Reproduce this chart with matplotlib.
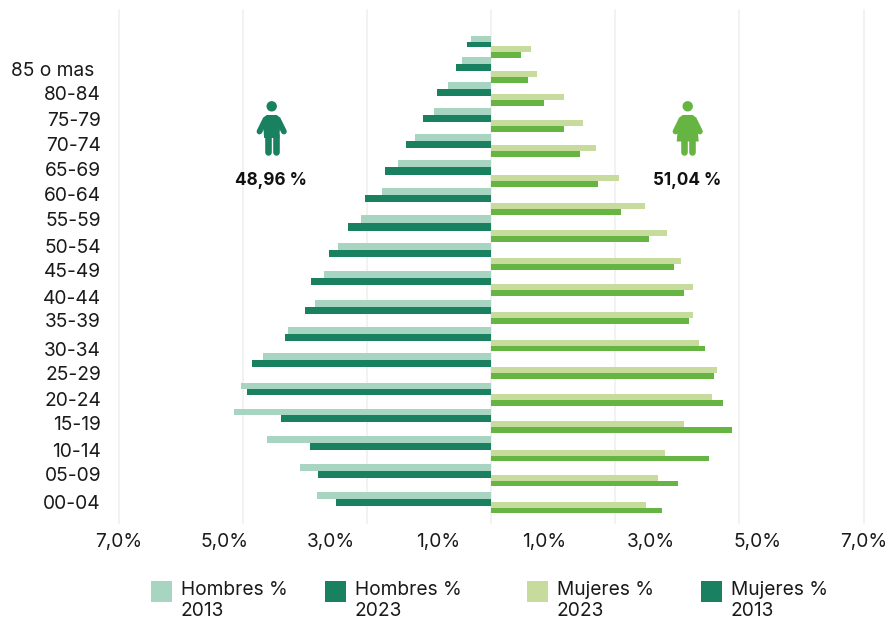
#!/usr/bin/env python3
# -*- coding: utf-8 -*-
"""Piramide de poblacion 2013 / 2023, hombres y mujeres."""

import matplotlib
matplotlib.use("Agg")
import matplotlib.pyplot as plt
from matplotlib.patches import Circle, Polygon, Rectangle

plt.rcParams["font.family"] = ["Inter", "DejaVu Sans"]

# === DATA ===
age_groups = ["85 o mas", "80-84", "75-79", "70-74", "65-69", "60-64", "55-59", "50-54", "45-49",
              "40-44", "35-39", "30-34", "25-29", "20-24", "15-19", "10-14", "05-09", "00-04"]
hombres_2013 = [0.38, 0.55, 0.81, 1.08, 1.43, 1.75, 2.05, 2.45, 2.88,
                3.13, 3.31, 3.82, 4.29, 4.70, 4.83, 4.21, 3.59, 3.27]
hombres_2023 = [0.46, 0.66, 1.02, 1.28, 1.60, 2.00, 2.37, 2.69, 3.05,
                3.39, 3.50, 3.88, 4.50, 4.59, 3.95, 3.41, 3.26, 2.92]
mujeres_2023 = [0.75, 0.86, 1.37, 1.73, 1.97, 2.41, 2.89, 3.31, 3.57,
                3.80, 3.80, 3.91, 4.25, 4.15, 3.63, 3.27, 3.14, 2.91]
mujeres_2013 = [0.56, 0.70, 1.00, 1.37, 1.67, 2.01, 2.44, 2.97, 3.44,
                3.63, 3.72, 4.02, 4.19, 4.36, 4.53, 4.10, 3.52, 3.21]
x_tick_values = [-7, -5, -3, -1, 1, 3, 5, 7]
x_tick_labels = ["7,0%", "5,0%", "3,0%", "1,0%", "1,0%", "3,0%", "5,0%", "7,0%"]
share_labels = ["48,96 %", "51,04 %"]
legend_labels = ["Hombres %\n2013", "Hombres %\n2023", "Mujeres %\n2023", "Mujeres %\n2013"]

# === LAYOUT (pixels of the 889x620 picture; rows are not evenly spaced in the original) ===
W, H = 889, 620
PLOT_LEFT, PLOT_RIGHT, PLOT_TOP, PLOT_BOTTOM = 118.5, 863.5, 10, 523
male_row_y = [41.5, 64, 89, 115, 141, 167, 195, 222.5, 250, 278, 307, 333.5, 360, 389, 415, 443, 471, 499]
male_bar_h = [5.5, 7, 7, 7, 7, 7.5, 7, 8, 7, 7, 7, 7, 7, 6, 6.5, 7, 7, 7]
female_row_y = [52, 77, 100, 126, 151, 181, 209, 236, 264, 290, 318, 345.5, 373, 400, 427, 455.5, 480.5, 507.5]
female_bar_h = 5.8
label_y = [70.7, 95, 121, 146, 171, 196, 221, 248, 272, 299, 322, 351, 375, 401, 425, 452, 476, 504]
legend_x = [151, 325, 527, 701]

C_MALE_LIGHT = "#A7D5C1"
C_MALE_DARK = "#1A8160"
C_FEMALE_LIGHT = "#C7DC9C"
C_FEMALE_DARK = "#66B543"
C_GRID = "#EFEFEF"
C_TEXT = "#1A1A1A"
FONT_SIZE = 13.8


def px(width):
    return width * 72.0 / 100.0


def draw_person(ov, cx, color, dress):
    ov.add_patch(Circle((cx, 106.3), 5.2, color=color, lw=0))
    for side in (-1, 1):
        ov.plot([cx + side * 7, cx + side * 12.2], [121, 131.5], color=color, lw=px(5.8),
                solid_capstyle="round")
        ov.plot([cx + side * 4.2, cx + side * 4.2], [135, 152], color=color, lw=px(6.6),
                solid_capstyle="round")
    if dress:
        pts = [(cx - 5, 115), (cx + 5, 115), (cx + 9, 118), (cx + 11, 141.5), (cx - 11, 141.5), (cx - 9, 118)]
    else:
        pts = [(cx - 5, 115), (cx + 5, 115), (cx + 9, 118), (cx + 7.6, 138), (cx - 7.6, 138), (cx - 9, 118)]
    ov.add_patch(Polygon(pts, closed=True, color=color, lw=0))


def main():
    fig = plt.figure(figsize=(W / 100, H / 100), dpi=100)

    ax = fig.add_axes([PLOT_LEFT / W, 1 - PLOT_BOTTOM / H, (PLOT_RIGHT - PLOT_LEFT) / W, (PLOT_BOTTOM - PLOT_TOP) / H])
    ax.set_xlim(-7, 7)
    ax.set_ylim(PLOT_BOTTOM, PLOT_TOP)
    for s in ax.spines.values():
        s.set_visible(False)

    # gridlines split the axis in 6 equal parts, the labels sit on odd values
    grid_pos = [-7, -14 / 3, -7 / 3, 0, 7 / 3, 14 / 3, 7]
    for g in grid_pos:
        ax.axvline(g, color=C_GRID, lw=px(1.5), zorder=0, clip_on=False)

    ax.barh(male_row_y, [-v for v in hombres_2023], height=male_bar_h, align="edge", color=C_MALE_DARK, zorder=2)
    ax.barh(male_row_y, [-v for v in hombres_2013], height=[-h for h in male_bar_h], align="edge",
            color=C_MALE_LIGHT, zorder=3)
    ax.barh(female_row_y, mujeres_2013, height=female_bar_h, align="edge", color=C_FEMALE_DARK, zorder=2)
    ax.barh(female_row_y, mujeres_2023, height=-female_bar_h, align="edge", color=C_FEMALE_LIGHT, zorder=3)

    ax.set_xticks(x_tick_values)
    ax.set_xticklabels(x_tick_labels, fontsize=FONT_SIZE, color=C_TEXT)
    ax.tick_params(axis="x", length=0, pad=7)
    ax.set_yticks([])
    # first and last labels overflow the plot box, same as the original
    for t in ax.get_xticklabels():
        t.set_clip_on(False)

    # overlay in pixel coordinates for labels, icons and the legend
    ov = fig.add_axes([0, 0, 1, 1], facecolor="none")
    ov.set_xlim(0, W)
    ov.set_ylim(H, 0)
    ov.axis("off")

    for i, (lab, y) in enumerate(zip(age_groups, label_y)):
        ov.text(94 if i == 0 else 101, y, lab, ha="right", va="center", fontsize=FONT_SIZE, color=C_TEXT)

    draw_person(ov, 271.7, C_MALE_DARK, dress=False)
    draw_person(ov, 687.7, C_FEMALE_DARK, dress=True)
    ov.text(271, 180.5, share_labels[0], ha="center", va="center", fontsize=12.3, fontweight="bold", color="#111111")
    ov.text(687, 180.5, share_labels[1], ha="center", va="center", fontsize=12.3, fontweight="bold", color="#111111")

    legend_colors = [C_MALE_LIGHT, C_MALE_DARK, C_FEMALE_LIGHT, C_MALE_DARK]
    for x, lab, col in zip(legend_x, legend_labels, legend_colors):
        ov.add_patch(Rectangle((x, 581), 21, 21, color=col, lw=0))
        first, second = lab.split("\n")
        ov.text(x + 30, 590, first, ha="left", va="center", fontsize=FONT_SIZE, color=C_TEXT)
        ov.text(x + 30, 611, second, ha="left", va="center", fontsize=FONT_SIZE, color=C_TEXT)

    fig.savefig("out.png", dpi=100)
    plt.close(fig)
    return 0


if __name__ == "__main__":
    raise SystemExit(main())
